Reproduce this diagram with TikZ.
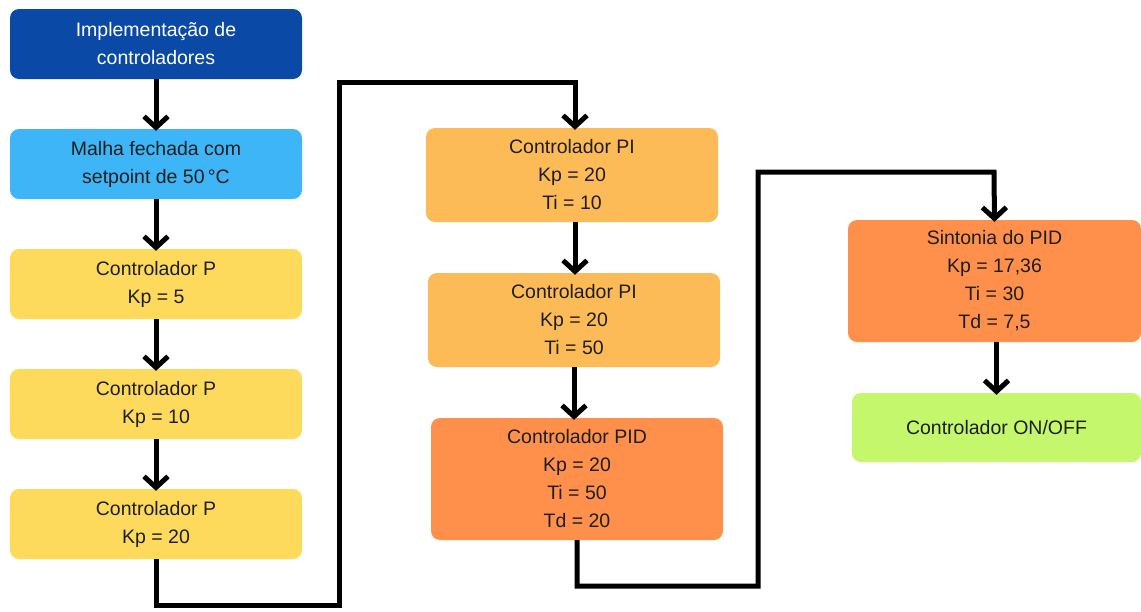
\documentclass[tikz,border=0pt]{standalone}
\usepackage{fontspec}
\setmainfont{Liberation Sans}
\usetikzlibrary{arrows.meta}
\definecolor{cdarkblue}{HTML}{0A49A6}
\definecolor{clightblue}{HTML}{3EB5F6}
\definecolor{cyellow}{HTML}{FDDA5C}
\definecolor{clorange}{HTML}{FDBB58}
\definecolor{corange}{HTML}{FE904C}
\definecolor{cgreen}{HTML}{C5F76C}
\definecolor{ctext}{HTML}{1E1E1E}
\tikzset{
  box/.style={rounded corners=9pt, minimum width=292pt, align=center, text=ctext,
    inner sep=0pt, font=\fontsize{19.5}{28}\selectfont},
  conn/.style={line width=5pt, -{Straight Barb[length=11pt,width=24pt,line width=5pt]}},
}
\begin{document}
\begin{tikzpicture}[x=1pt,y=-1pt]
\useasboundingbox (0,0) rectangle (1141,611);
\fill[white] (0,0) rectangle (1141,611);
\node[box, fill=cdarkblue, text=white, minimum height=70pt] (n1) at (156,44) {Implementação de\\controladores};
\node[box, fill=clightblue, minimum height=70pt] (n2) at (156,164) {Malha fechada com\\setpoint de 50\,°C};
\node[box, fill=cyellow, minimum height=70pt] (n3) at (156,284) {Controlador P\\Kp = 5};
\node[box, fill=cyellow, minimum height=70pt] (n4) at (156,404) {Controlador P\\Kp = 10};
\node[box, fill=cyellow, minimum height=70pt] (n5) at (156,524) {Controlador P\\Kp = 20};
\node[box, fill=clorange, minimum height=94pt] (n6) at (572,175) {Controlador PI\\Kp = 20\\Ti = 10};
\node[box, fill=clorange, minimum height=94pt] (n7) at (574,320) {Controlador PI\\Kp = 20\\Ti = 50};
\node[box, fill=corange, minimum height=122pt] (n8) at (577,479) {Controlador PID\\Kp = 20\\Ti = 50\\Td = 20};
\node[box, fill=corange, minimum width=293pt, minimum height=122pt] (n9) at (994.5,281) {Sintonia do PID\\Kp = 17,36\\Ti = 30\\Td = 7,5};
\node[box, fill=cgreen, minimum width=289pt, minimum height=69pt] (n10) at (996.5,427.5) {Controlador ON/OFF};

\draw[conn] (n1.south) -- ([yshift=-2pt]n2.north);
\draw[conn] (n2.south) -- ([yshift=-2pt]n3.north);
\draw[conn] (n3.south) -- ([yshift=-2pt]n4.north);
\draw[conn] (n4.south) -- ([yshift=-2pt]n5.north);

\coordinate (a1) at (156,605);
\coordinate (a2) at (339,605);
\coordinate (a3) at (339,82);
\coordinate (a4) at (575,82);
\draw[conn, line join=miter] (n5.south) -- (a1) -- (a2) -- (a3) -- (a4) -- ([xshift=3pt,yshift=-2pt]n6.north);
\draw[conn] ([xshift=3pt]n6.south) -- ([xshift=1pt,yshift=-2pt]n7.north);
\draw[conn] (n7.south) -- ([xshift=-3pt,yshift=-2pt]n8.north);

\coordinate (b1) at (577,586);
\coordinate (b2) at (758,586);
\coordinate (b3) at (758,172);
\coordinate (b4) at (994,172);
\draw[conn, line join=miter] (n8.south) -- (b1) -- (b2) -- (b3) -- (b4) -- ([yshift=-2pt]n9.north);
\draw[conn] ([xshift=2pt]n9.south) -- ([yshift=-2pt]n10.north);
\end{tikzpicture}
\end{document}
